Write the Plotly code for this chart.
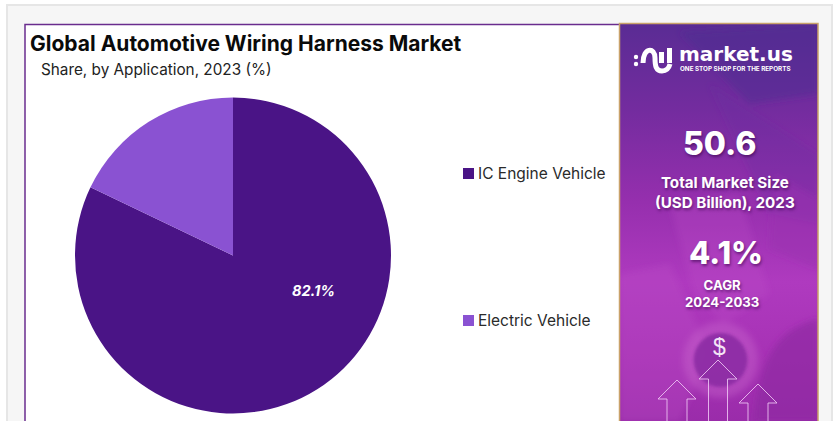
import base64
import plotly.graph_objects as go

# Market share by application
applications = ["IC Engine Vehicle", "Electric Vehicle"]
shares = [82.1, 17.9]
slice_colors = ["#4A1486", "#8A52D2"]

chart_title = "Global Automotive Wiring Harness Market"
chart_subtitle = "Share, by Application, 2023 (%)"
market_size = "50.6"
market_size_label = "Total Market Size<br>(USD Billion), 2023"
cagr = "4.1%"
cagr_label = "CAGR<br>2024-2033"

W, H = 836, 421
FONT = "Inter"
SHADOW = "1px 2px 3px rgba(50,0,70,0.55)"

# Decorative backdrop of the side panel
panel_svg = """<svg xmlns="http://www.w3.org/2000/svg" width="199" height="397" viewBox="0 0 199 397">
<defs>
<linearGradient id="g" x1="0" y1="0" x2="0" y2="1">
<stop offset="0" stop-color="#5A2C94"/><stop offset="0.22" stop-color="#742C9F"/>
<stop offset="0.45" stop-color="#962FAE"/><stop offset="0.65" stop-color="#AF3ABF"/>
<stop offset="0.85" stop-color="#A631B4"/><stop offset="1" stop-color="#9A2CAA"/>
</linearGradient>
<filter id="b"><feGaussianBlur stdDeviation="3"/></filter>
<filter id="c"><feGaussianBlur stdDeviation="1.5"/></filter>
</defs>
<rect width="199" height="397" fill="url(#g)"/>
<g filter="url(#b)">
<polygon points="60,8 199,0 199,70 130,80" fill="#4B2C90" opacity="0.45"/>
<polygon points="90,60 199,130 199,200 150,190" fill="#6A2AA0" opacity="0.3"/>
<polygon points="50,180 120,170 150,270 105,300 75,270" fill="#C050C8" opacity="0.25"/>
<polygon points="155,150 199,175 199,245 150,225" fill="#9A30B0" opacity="0.5"/>
<polygon points="0,250 50,240 90,330 60,397 0,397" fill="#BC4CC6" opacity="0.3"/>
<path d="M135,397 C140,330 160,305 199,295 L199,397 Z" fill="#8F27A3" opacity="0.7"/>
<circle cx="101" cy="336" r="38" fill="#CE6CD0" opacity="0.35"/>
</g>
<circle cx="101" cy="336" r="27" fill="#8A2AA3" filter="url(#c)" opacity="0.85"/>
</svg>"""
panel_uri = "data:image/svg+xml;base64," + base64.b64encode(panel_svg.encode()).decode()

fig = go.Figure()

fig.add_trace(go.Pie(
    labels=applications,
    values=shares,
    marker=dict(colors=slice_colors, line=dict(width=0)),
    sort=False,
    direction="clockwise",
    rotation=0,
    textinfo="none",
    hoverinfo="label+percent",
    showlegend=False,
    domain=dict(x=[75 / W, 391 / W], y=[1 - 413.5 / H, 1 - 97.5 / H]),
))


def rect(x0, y0, x1, y1, fill, line=None, width=0, layer="below"):
    return dict(type="rect", xref="x", yref="y", x0=x0, y0=y0, x1=x1, y1=y1,
                fillcolor=fill, line=dict(color=line, width=width) if line else dict(width=0),
                layer=layer)


def label(x, y, text, size, color="#FFFFFF", weight=400, anchor="center", italic=False, family=FONT, shadow="none"):
    fig.add_annotation(x=x, y=y, xref="x", yref="y", text=text, showarrow=False,
                       xanchor=anchor, yanchor="middle", align=anchor,
                       font=dict(family=family, size=size, color=color, weight=weight,
                                 style="italic" if italic else "normal", shadow=shadow))


def arrow(cx, tip, half_head, head_h, half_stem, color="rgba(240,200,245,0.85)"):
    base = tip + head_h
    return dict(type="path", xref="x", yref="y", layer="above",
                path=(f"M{cx - half_stem},{H} L{cx - half_stem},{base} L{cx - half_head},{base} "
                      f"L{cx},{tip} L{cx + half_head},{base} L{cx + half_stem},{base} L{cx + half_stem},{H}"),
                line=dict(color=color, width=1))


def dot(cx, cy, r):
    return dict(type="circle", xref="x", yref="y", x0=cx - r, x1=cx + r, y0=cy - r, y1=cy + r,
                fillcolor="#FFFFFF", line=dict(width=0), layer="above")


shapes = [
    rect(7, 5, 832, H + 5, "#F6F6F6", "#E6E6E6", 2),
    rect(25, 24.5, 620, H + 5, "#FFFFFF", "#6A2C8E", 1.5),
    rect(619.5, 23.5, 818, H + 5, "rgba(0,0,0,0)", "#C9A26A", 1.5, "above"),
    rect(463, 168, 474, 179, slice_colors[0]),
    rect(463, 315, 474, 326, slice_colors[1]),
    arrow(718, 360, 19, 19, 9.5),
    arrow(677, 380, 19, 19, 10),
    arrow(758, 384, 19, 19, 10),
    dot(636, 57, 2.2),
    dot(636, 64, 2.2),
]
fig.update_layout(shapes=shapes)

fig.add_layout_image(dict(source=panel_uri, xref="x", yref="y", x=620, y=24, sizex=198, sizey=397,
                          sizing="stretch", layer="below", xanchor="left", yanchor="top"))

label(28, 43, chart_title, 21, "#0A0A0A", weight=700, anchor="left")
label(39, 69, chart_subtitle, 15.3, "#222222", anchor="left")
label(313, 290, f"{shares[0]}%", 14.5, "#FFFFFF", weight=700, italic=True)
label(476, 173, applications[0], 15.5, "#2A2A2A", anchor="left")
label(476, 320, applications[1], 15.5, "#2A2A2A", anchor="left")

# Side panel
label(677, 54, "market.us", 20, weight=700, anchor="left", family="DejaVu Sans")
label(678, 69, "ONE STOP SHOP FOR THE REPORTS", 6.3, weight=700, anchor="left")
label(719, 143, market_size, 32, weight=800, shadow=SHADOW)
label(725, 192, market_size_label, 15.2, weight=700, shadow=SHADOW)
label(726, 252, cagr, 31, weight=800, shadow=SHADOW)
label(722, 293, cagr_label, 13.2, weight=700, shadow=SHADOW)
label(719, 347, "$", 23, "#F4E4F6", family="Liberation Sans")

# Logo mark built from strokes
logo = [
    ("M643,63 C643,47 655,47 655,58 C655,66 656,71 662,71 C667,71 669,68 670,64", 5),
    ("M661.5,52 L661.5,63", 5),
    ("M669.5,48 L669.5,63", 5),
]
for p, w in logo:
    fig.add_shape(type="path", xref="x", yref="y", path=p, layer="above",
                  line=dict(color="#FFFFFF", width=w))

fig.update_layout(
    width=W, height=H, margin=dict(l=0, r=0, t=0, b=0),
    paper_bgcolor="#FFFFFF", plot_bgcolor="rgba(0,0,0,0)",
    xaxis=dict(range=[0, W], visible=False, fixedrange=True),
    yaxis=dict(range=[H, 0], visible=False, fixedrange=True),
)

fig.write_html("out.html", config=dict(displayModeBar=False))
